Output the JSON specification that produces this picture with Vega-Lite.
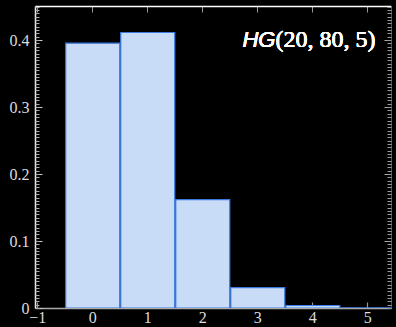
{
  "$schema": "https://vega.github.io/schema/vega-lite/v6.json",
  "width": 356,
  "height": 302,
  "padding": {"left": 35, "top": 6, "right": 5, "bottom": 19},
  "autosize": {"type": "none"},
  "background": "#000000",
  "config": {
    "view": {"stroke": null},
    "axis": {"grid": false, "title": null, "labelFont": "Liberation Serif, serif", "labelFontSize": 16, "labelFontWeight": "normal", "labelColor": "#dddddd", "labelOverlap": false}
  },
  "data": {
    "values": [
      {"k": 0, "lo": -0.5, "hi": 0.5, "p": 0.3955},
      {"k": 1, "lo": 0.5, "hi": 1.5, "p": 0.4114},
      {"k": 2, "lo": 1.5, "hi": 2.5, "p": 0.1617},
      {"k": 3, "lo": 2.5, "hi": 3.5, "p": 0.0303},
      {"k": 4, "lo": 3.5, "hi": 4.5, "p": 0.0037},
      {"k": 5, "lo": 4.5, "hi": 5.5, "p": 0.0001}
    ]
  },
  "resolve": {"axis": {"x": "independent", "y": "independent"}},
  "layer": [
    {
      "mark": {"type": "bar", "fill": "#c8dcf8", "stroke": "#3c7ae0", "strokeWidth": 1.2, "clip": true},
      "encoding": {
        "x": {"field": "lo", "type": "quantitative", "bin": {"binned": true},
              "scale": {"domain": [-1.04, 5.43], "nice": false, "zero": false},
              "axis": {"orient": "bottom", "values": [-1, 0, 1, 2, 3, 4, 5], "tickSize": -6, "tickColor": "#999999", "tickWidth": 1.2, "domainColor": "#aaaaaa", "domainWidth": 1.5, "labelPadding": 7, "format": "d", "labelExpr": "datum.value < 0 ? '\u2212' + abs(datum.value) : datum.label"}},
        "x2": {"field": "hi"},
        "y": {"field": "p", "type": "quantitative",
              "scale": {"domain": [0, 0.451], "nice": false, "zero": true},
              "axis": {"orient": "left", "values": [0, 0.1, 0.2, 0.3, 0.4], "tickSize": -7, "tickColor": "#cccccc", "domainColor": "#eeeeee", "domainWidth": 1.5, "labelPadding": 13, "labelExpr": "datum.value == 0 ? '0' : format(datum.value, '.1f')"}}
      }
    },
    {
      "mark": {"type": "point", "opacity": 0},
      "encoding": {
        "x": {"field": "k", "type": "quantitative",
              "axis": {"orient": "top", "values": [-1, 0, 1, 2, 3, 4, 5], "tickSize": -6, "tickColor": "#999999", "domainColor": "#ffffff", "domainWidth": 1.5, "labels": false}},
        "y": {"field": "p", "type": "quantitative",
              "axis": {"orient": "right", "values": [0, 0.1, 0.2, 0.3, 0.4], "tickSize": -7, "tickColor": "#aaaaaa", "domainColor": "#555555", "labels": false}}
      }
    },
    {
      "mark": {"type": "point", "opacity": 0},
      "encoding": {
        "x": {"field": "k", "type": "quantitative", "axis": null},
        "y": {"field": "p", "type": "quantitative",
              "axis": {"orient": "right", "tickSize": -4, "tickColor": "#999999", "domain": false, "labels": false,
                       "values": [0,0.005,0.01,0.015,0.02,0.025,0.03,0.035,0.04,0.045,0.05,0.055,0.06,0.065,0.07,0.075,0.08,0.085,0.09,0.095,0.1,0.105,0.11,0.115,0.12,0.125,0.13,0.135,0.14,0.145,0.15,0.155,0.16,0.165,0.17,0.175,0.18,0.185,0.19,0.195,0.2,0.205,0.21,0.215,0.22,0.225,0.23,0.235,0.24,0.245,0.25,0.255,0.26,0.265,0.27,0.275,0.28,0.285,0.29,0.295,0.3,0.305,0.31,0.315,0.32,0.325,0.33,0.335,0.34,0.345,0.35,0.355,0.36,0.365,0.37,0.375,0.38,0.385,0.39,0.395,0.4,0.405,0.41,0.415,0.42,0.425,0.43,0.435,0.44,0.445,0.45]}}
      }
    },
    {
      "mark": {"type": "point", "opacity": 0},
      "encoding": {
        "x": {"field": "k", "type": "quantitative", "axis": null},
        "y": {"field": "p", "type": "quantitative",
              "axis": {"orient": "left", "tickSize": -4, "tickColor": "#aaaaaa", "domain": false, "labels": false,
                       "values": [0,0.005,0.01,0.015,0.02,0.025,0.03,0.035,0.04,0.045,0.05,0.055,0.06,0.065,0.07,0.075,0.08,0.085,0.09,0.095,0.1,0.105,0.11,0.115,0.12,0.125,0.13,0.135,0.14,0.145,0.15,0.155,0.16,0.165,0.17,0.175,0.18,0.185,0.19,0.195,0.2,0.205,0.21,0.215,0.22,0.225,0.23,0.235,0.24,0.245,0.25,0.255,0.26,0.265,0.27,0.275,0.28,0.285,0.29,0.295,0.3,0.305,0.31,0.315,0.32,0.325,0.33,0.335,0.34,0.345,0.35,0.355,0.36,0.365,0.37,0.375,0.38,0.385,0.39,0.395,0.4,0.405,0.41,0.415,0.42,0.425,0.43,0.435,0.44,0.445,0.45]}}
      }
    },
    {
      "mark": {"type": "text", "text": "HG", "font": "Liberation Sans", "fontStyle": "italic", "fontWeight": "normal", "fontSize": 22, "color": "#ffffff", "align": "right", "baseline": "alphabetic"},
      "encoding": {
        "x": {"datum": 3.33, "type": "quantitative", "axis": null},
        "y": {"datum": 0.3898, "type": "quantitative", "axis": null}
      }
    },
    {
      "mark": {"type": "text", "text": "(20, 80, 5)", "font": "Liberation Serif, serif", "fontWeight": "normal", "fontSize": 24, "color": "#ffffff", "align": "left", "baseline": "alphabetic"},
      "encoding": {
        "x": {"datum": 3.33, "type": "quantitative", "axis": null},
        "y": {"datum": 0.3898, "type": "quantitative", "axis": null}
      }
    }
  ]
}
